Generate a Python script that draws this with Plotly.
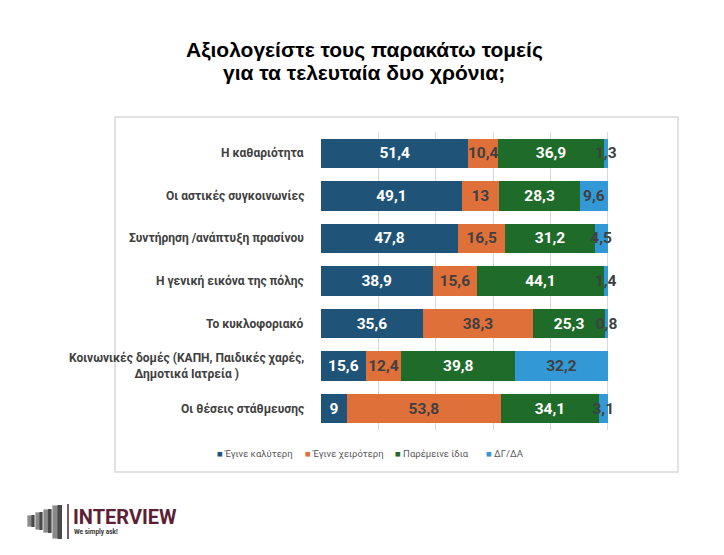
import plotly.graph_objects as go

categories = [
    "Η καθαριότητα",
    "Οι αστικές συγκοινωνίες",
    "Συντήρηση /ανάπτυξη πρασίνου",
    "Η γενική εικόνα της πόλης",
    "Το κυκλοφοριακό",
    "Κοινωνικές δομές (ΚΑΠΗ, Παιδικές χαρές,<br>Δημοτικά Ιατρεία )",
    "Οι θέσεις στάθμευσης",
]
better = [51.4, 49.1, 47.8, 38.9, 35.6, 15.6, 9.0]
worse = [10.4, 13.0, 16.5, 15.6, 38.3, 12.4, 53.8]
same = [36.9, 28.3, 31.2, 44.1, 25.3, 39.8, 34.1]
dkna = [1.3, 9.6, 4.5, 1.4, 0.8, 32.2, 3.1]
series_names = ["Έγινε καλύτερη", "Έγινε χειρότερη", "Παρέμεινε ίδια", "ΔΓ/ΔΑ"]
title_lines = ["Αξιολογείστε τους παρακάτω τομείς", "για τα τελευταία δυο χρόνια;"]

colors = ["#1F5478", "#E0703A", "#1F6B2A", "#3399D6"]
label_colors = ["#FFFFFF", "#404040", "#FFFFFF", "#404040"]

W, H = 724, 555
L, R, T, B = 321, 665, 132, 430


def px(x):
    return (x - L) / (R - L)


def py(y):
    return (B - y) / (B - T)


def fmt(v):
    s = ("%.1f" % v).rstrip("0").rstrip(".")
    return s.replace(".", ",")


fig = go.Figure()
for name, vals, c, lc in zip(series_names, [better, worse, same, dkna], colors, label_colors):
    fig.add_trace(go.Bar(
        y=categories, x=vals, name=name, orientation="h",
        marker=dict(color=c, line=dict(width=0)),
        text=[fmt(v) for v in vals], textposition="inside", textangle=0,
        insidetextanchor="middle", constraintext="none", cliponaxis=False,
        textfont=dict(family="Roboto", size=15.5, color=lc, weight="bold"),
        hoverinfo="skip", showlegend=False,
    ))

annotations = []
for cat in categories:
    annotations.append(dict(
        x=0, xref="paper", y=cat, yref="y", xanchor="right", xshift=-15,
        text=cat, showarrow=False, align="center",
        font=dict(family="Roboto", size=12, color="#404040", weight="bold"),
    ))

# title (two centred lines)
for line, yc in zip(title_lines, [50, 73]):
    annotations.append(dict(
        x=px(364), y=py(yc), xref="paper", yref="paper", xanchor="center", yanchor="middle",
        text=line, showarrow=False,
        font=dict(family="Liberation Sans", size=21, color="#000000", weight="bold"),
    ))

# legend (custom, compact)
legend_x = [215, 303, 393, 484]
for name, c, lx in zip(series_names, colors, legend_x):
    annotations.append(dict(
        x=px(lx), y=py(454), xref="paper", yref="paper", xanchor="left", yanchor="middle",
        text='<span style="color:%s">■</span> %s' % (c, name), showarrow=False,
        font=dict(family="Roboto", size=9.5, color="#595959"),
    ))

# logo texts
annotations.append(dict(x=px(71), y=py(517), xref="paper", yref="paper", xanchor="left", yanchor="middle",
                        text="INTERVIEW", showarrow=False,
                        font=dict(family="Roboto", size=20, color="#5E1F35", weight="bold")))
annotations.append(dict(x=px(72), y=py(532), xref="paper", yref="paper", xanchor="left", yanchor="middle",
                        text="We simply ask!", showarrow=False,
                        font=dict(family="Roboto", size=6.5, color="#333333", weight="bold")))

shapes = [
    dict(type="rect", xref="paper", yref="paper", x0=px(115), x1=px(678), y0=py(472), y1=py(117),
         line=dict(color="#D9D9D9", width=1.5), fillcolor="rgba(0,0,0,0)", layer="below"),
    dict(type="line", xref="paper", yref="paper", x0=px(68), x1=px(68), y0=py(539), y1=py(504),
         line=dict(color="#5E1F35", width=1.5)),
]
logo_bars = [(27, 35, 515, 527), (35, 43, 512, 530), (43, 52, 509, 533), (52, 62, 505, 539)]
for x0, x1, yt, yb in logo_bars:
    shapes.append(dict(type="rect", xref="paper", yref="paper", x0=px(x0), x1=px(x1), y0=py(yb), y1=py(yt),
                       line=dict(color="#FFFFFF", width=0.8), fillcolor="#8A8A8A"))
    shapes.append(dict(type="rect", xref="paper", yref="paper", x0=px(x0 + (x1 - x0) * 0.55), x1=px(x1),
                       y0=py(yb), y1=py(yt), line=dict(width=0), fillcolor="#4A4A4A"))

fig.update_layout(
    width=W, height=H,
    margin=dict(l=L, r=W - R, t=T, b=H - B, pad=0),
    paper_bgcolor="white", plot_bgcolor="white",
    barmode="stack", bargap=0.31,
    xaxis=dict(range=[0, 120], showticklabels=False, showgrid=True, gridcolor="#D9D9D9",
               gridwidth=1, dtick=20, zeroline=False, showline=False, fixedrange=True),
    yaxis=dict(autorange="reversed", showticklabels=False, showgrid=False, showline=False,
               zeroline=False, fixedrange=True),
    annotations=annotations,
    shapes=shapes,
    showlegend=False,
)

fig.write_html("out.html")
